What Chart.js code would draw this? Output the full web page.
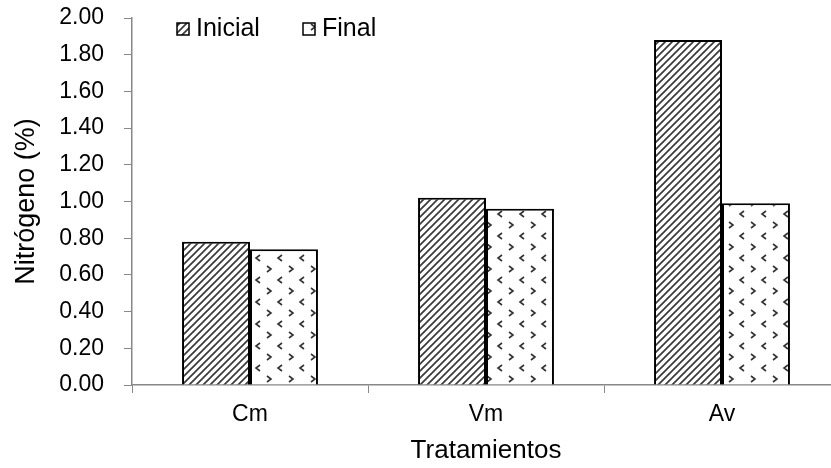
<!DOCTYPE html>
<html>
<head>
<meta charset="utf-8">
<script src="https://cdn.jsdelivr.net/npm/chart.js@4"></script>
<style>
  html, body { margin: 0; padding: 0; background: #fff; overflow: hidden; }
  #wrap { width: 842px; height: 468px; }
</style>
</head>
<body>
<div id="wrap"><canvas id="lienzo" width="842" height="468"></canvas></div>
<script>
const categorias = ['Cm', 'Vm', 'Av']
const inicial = [0.78, 1.02, 1.88]
const final = [0.74, 0.96, 0.99]
const fuente = 'Arial, "Liberation Sans", sans-serif'

// trama de lineas diagonales (Inicial)
function tramaDiagonal() {
    const c = document.createElement('canvas')
    const s = 7
    c.width = s; c.height = s
    const g = c.getContext('2d')
    g.fillStyle = '#fff'
    g.fillRect(0, 0, s, s)
    g.strokeStyle = '#3a3a3a'
    g.lineWidth = 1.7
    g.beginPath()
    g.moveTo(-1, s + 1); g.lineTo(s + 1, -1)
    g.moveTo(-1, 1); g.lineTo(1, -1)
    g.moveTo(s - 1, s + 1); g.lineTo(s + 1, s - 1)
    g.stroke()
    return g.createPattern(c, 'repeat')
}

// trama de puntas < > (Final)
function tramaPuntas() {
    const c = document.createElement('canvas')
    const s = 22
    c.width = s; c.height = s
    const g = c.getContext('2d')
    g.fillStyle = '#fff'
    g.fillRect(0, 0, s, s)
    g.strokeStyle = '#333'
    g.lineWidth = 1.6
    g.beginPath()
    // ">"
    g.moveTo(3, 2); g.lineTo(7, 5); g.lineTo(3, 8)
    // "<"
    g.moveTo(18, 13); g.lineTo(14, 16); g.lineTo(18, 19)
    g.stroke()
    return g.createPattern(c, 'repeat')
}

const patInicial = tramaDiagonal()
const patFinal = tramaPuntas()

const leyenda = {
    id: 'leyenda',
    afterDraw(chart) {
        const ctx = chart.ctx
        const items = [
            { x: 177, texto: chart.data.datasets[0].label, pat: patInicial },
            { x: 303, texto: chart.data.datasets[1].label, pat: patFinal }
        ]
        ctx.save()
        ctx.font = '25px ' + fuente
        ctx.textBaseline = 'middle'
        items.forEach(it => {
            ctx.fillStyle = it.pat
            ctx.fillRect(it.x, 23, 12, 12)
            ctx.strokeStyle = '#000'
            ctx.lineWidth = 1.5
            ctx.strokeRect(it.x, 23, 12, 12)
            ctx.fillStyle = '#000'
            ctx.fillText(it.texto, it.x + 19, 29)
        })
        ctx.restore()
    }
}

new Chart(document.getElementById('lienzo'), {
    type: 'bar',
    data: {
        labels: categorias,
        datasets: [{
            label: 'Inicial',
            data: inicial,
            backgroundColor: patInicial,
            borderColor: '#000',
            borderWidth: 2,
            borderSkipped: 'bottom'
        }, {
            label: 'Final',
            data: final,
            backgroundColor: patFinal,
            borderColor: '#000',
            borderWidth: 2,
            borderSkipped: 'bottom'
        }]
    },
    options: {
        responsive: false,
        animation: false,
        events: [],
        layout: { padding: { top: 18, right: 2, left: 0, bottom: 0 } },
        plugins: {
            legend: { display: false },
            tooltip: { enabled: false }
        },
        datasets: { bar: { categoryPercentage: 0.576, barPercentage: 1 } },
        scales: {
            x: {
                afterFit: s => { s.height = 83 },
                grid: { drawOnChartArea: false, tickLength: 8, color: '#888', offset: true },
                border: { color: '#888', width: 1.5 },
                ticks: { color: '#000', padding: 8, font: { family: fuente, size: 23 } },
                title: {
                    display: true, text: 'Tratamientos', color: '#000',
                    font: { family: fuente, size: 26 }, padding: { top: 0, bottom: 2 }
                }
            },
            y: {
                min: 0, max: 2,
                afterFit: s => { s.width = 132; s.paddingTop = 0; s.paddingBottom = 0 },
                grid: { drawOnChartArea: false, tickLength: 8, color: '#888' },
                border: { color: '#888', width: 1.5 },
                ticks: {
                    stepSize: 0.2, color: '#000', padding: 20,
                    font: { family: fuente, size: 23 },
                    callback: v => v.toFixed(2)
                },
                title: {
                    display: true, text: 'Nitrógeno (%)', color: '#000',
                    font: { family: fuente, size: 27 }, padding: { top: 10, bottom: 0 }
                }
            }
        }
    },
    plugins: [leyenda]
})
</script>
</body>
</html>
